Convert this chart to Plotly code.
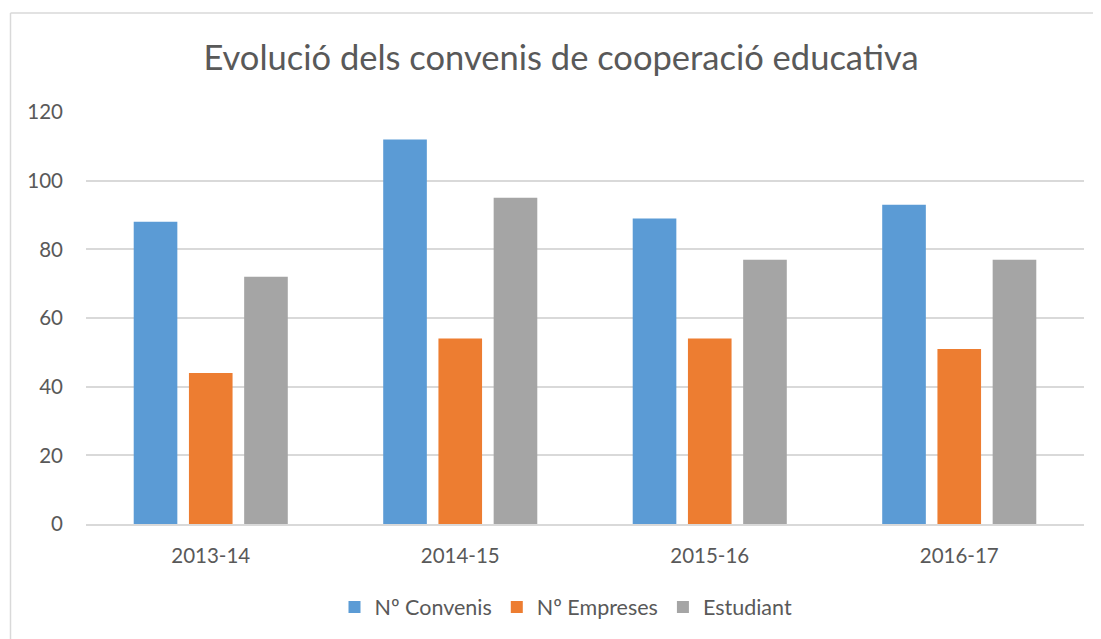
import plotly.graph_objects as go

categories = ["2013-14", "2014-15", "2015-16", "2016-17"]
convenis = [88, 112, 89, 93]
empreses = [44, 54, 54, 51]
estudiant = [72, 95, 77, 77]
series_names = ["Nº Convenis", "Nº Empreses", "Estudiant"]
colors = ["#5B9BD5", "#ED7D31", "#A5A5A5"]

# page body has an 8px default margin; compensate so the figure sits at the window origin
OFF = 8
W, H = 1101 - OFF, 639 - OFF
ml, mr, mt, mb = 86 - OFF, 17, 112 - OFF, 115
font = "Lato"
txt = "#595959"

fig = go.Figure()
for name, vals, c in zip(series_names, [convenis, empreses, estudiant], colors):
    fig.add_trace(go.Bar(x=categories, y=vals, name=name, marker=dict(color=c, line=dict(width=0))))

pw = W - ml - mr
ph = H - mt - mb
def px_x(p):
    return (p - OFF - ml) / pw
def px_y(p):
    return 1 - (p - OFF - mt) / ph

fig.update_layout(
    width=W, height=H,
    margin=dict(l=ml, r=mr, t=mt, b=mb),
    paper_bgcolor="white", plot_bgcolor="white",
    barmode="group", bargap=0.336, bargroupgap=0.21,
    font=dict(family=font, color=txt, size=20),
    title=dict(text="Evolució dels convenis de cooperació educativa",
               x=(561 - OFF) / W, xanchor="center", xref="container",
               y=1 - (58 - OFF) / H, yanchor="middle", yref="container",
               font=dict(size=34.5, color=txt, family=font)),
    legend=dict(orientation="h", x=(566 - OFF) / W, xanchor="center", xref="container",
                y=1 - (607 - OFF) / H, yanchor="middle", yref="container",
                font=dict(size=21.5, color=txt, family=font),
                itemwidth=30, traceorder="normal", bgcolor="rgba(0,0,0,0)"),
    xaxis=dict(showgrid=False, showline=True, linecolor="#D9D9D9", linewidth=2,
               ticks="", ticklabelstandoff=12, tickfont=dict(size=20.5, color=txt)),
    yaxis=dict(range=[0, 120], dtick=20, showgrid=True, gridcolor="#D9D9D9", gridwidth=1.5,
               zeroline=False, showline=False, ticks="", ticklabelstandoff=22,
               tickfont=dict(size=20.5, color=txt)),
    shapes=[
        dict(type="line", xref="paper", yref="paper", x0=px_x(10.5), x1=px_x(10.5),
             y0=px_y(13), y1=px_y(H + 40), line=dict(color="#D9D9D9", width=1.5)),
        dict(type="line", xref="paper", yref="paper", x0=px_x(10.5), x1=px_x(W + 40),
             y0=px_y(13), y1=px_y(13), line=dict(color="#D9D9D9", width=1.5)),
    ],
)

fig.write_html("out.html")
